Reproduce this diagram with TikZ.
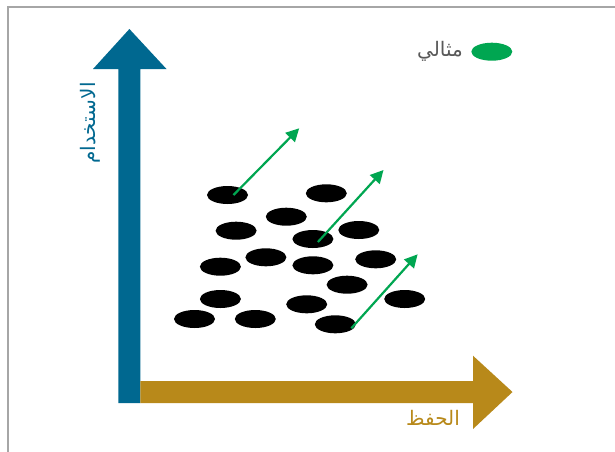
\documentclass[tikz,border=0pt]{standalone}
\usepackage{fontspec}
\usetikzlibrary{arrows.meta,shapes.geometric}
\TeXXeTstate=1
\newfontfamily\arabicfont[Script=Arabic]{DejaVu Sans}
\definecolor{usageblue}{HTML}{006890}
\definecolor{keepgold}{HTML}{B8891A}
\definecolor{idealgreen}{HTML}{00A651}
\definecolor{framegray}{HTML}{A6A6A6}
\definecolor{labelgray}{HTML}{595959}
\tikzset{
  dot/.style={ellipse, fill=black, minimum width=41pt, minimum height=18pt, inner sep=0pt},
  greendot/.style={dot, fill=idealgreen},
  move/.style={draw=idealgreen, line width=2.2pt, -{Triangle[length=13pt,width=13pt]}},
  arlabel/.style={font=\arabicfont\fontsize{20}{24}\selectfont, inner sep=0pt}
}
\begin{document}
\begin{tikzpicture}[x=1pt,y=-1pt]
\useasboundingbox (0,0) rectangle (615,451);
\clip (0,0) rectangle (615,451);
\fill[white] (0,0) rectangle (615,451);
% outer frame
\draw[framegray, line width=1.4pt] (8,7) rectangle (660,500);

% usage axis (vertical)
\fill[usageblue] (118.4,403) -- (118.4,69) -- (93,69) -- (129.4,29) -- (166.5,69) -- (140.4,69) -- (140.4,403) -- cycle;
% retention axis (horizontal)
\fill[keepgold] (140.4,381) -- (473,381) -- (473,355.7) -- (512.5,392) -- (473,429) -- (473,403) -- (140.4,403) -- cycle;

\node[arlabel, text=usageblue, rotate=90] (ylab) at (90,123) {\beginR الاستخدام\endR};
\node[arlabel, text=keepgold] (xlab) at (433,418) {\beginR الحفظ\endR};

% legend
\node[greendot] (legdot) at (491.8,51.7) {};
\node[arlabel, text=labelgray, anchor=east] (legtext) at (463,51) {\beginR مثالي\endR};

% data points
\node[dot] (d1)  at (227.5,195) {};
\node[dot] (d2)  at (326.3,193.3) {};
\node[dot] (d3)  at (286.3,216.7) {};
\node[dot] (d4)  at (236.1,230.7) {};
\node[dot] (d5)  at (312.9,239) {};
\node[dot] (d6)  at (358.8,230) {};
\node[dot] (d7)  at (265.9,257.3) {};
\node[dot] (d8)  at (220.4,266.7) {};
\node[dot] (d9)  at (312.9,265.3) {};
\node[dot] (d10) at (375.7,259.3) {};
\node[dot] (d11) at (347.1,284.7) {};
\node[dot] (d12) at (220.4,299) {};
\node[dot] (d13) at (306.7,304.3) {};
\node[dot] (d14) at (404.7,299) {};
\node[dot] (d15) at (194.5,319) {};
\node[dot] (d16) at (255.3,319) {};
\node[dot] (d17) at (335.3,324.3) {};

% movement towards the ideal
\coordinate (t1) at (299.2,128.3);
\coordinate (t2) at (383.5,170);
\coordinate (t3) at (417.6,254.3);
\draw[move] ([xshift=6pt]d1.center) -- (t1);
\draw[move] ([xshift=5pt,yshift=-3pt]d5.center) -- (t2);
\draw[move] ([xshift=16pt,yshift=-4pt]d17.center) -- (t3);
\end{tikzpicture}
\end{document}
